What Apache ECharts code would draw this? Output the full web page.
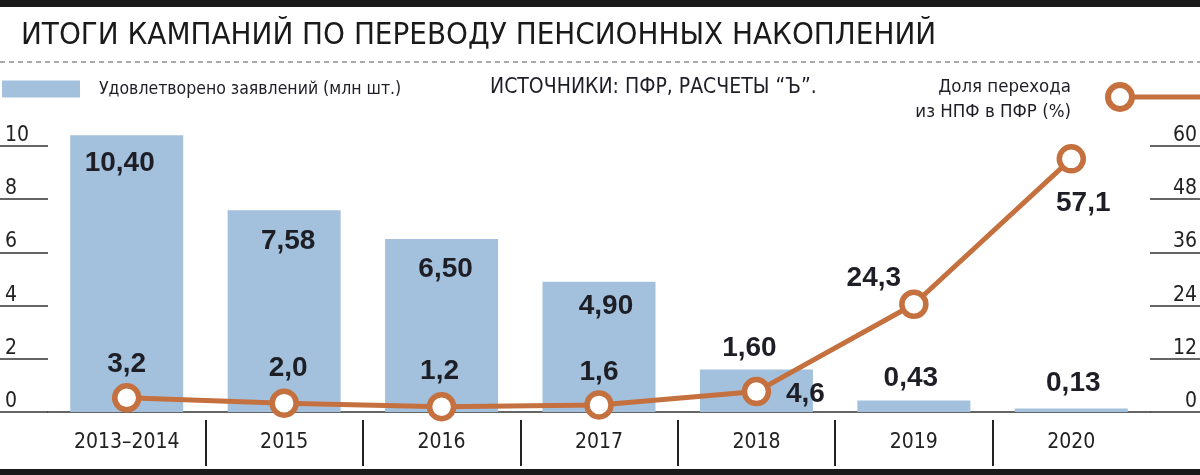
<!DOCTYPE html>
<html><head><meta charset="utf-8">
<script src="https://cdn.jsdelivr.net/npm/echarts@6/dist/echarts.min.js"></script>
<style>html,body{margin:0;padding:0;background:#fff}#c{width:1200px;height:475px}</style>
</head><body><div id="c"></div>
<script>
// ---- data ----
const categories = ['2013–2014', '2015', '2016', '2017', '2018', '2019', '2020'];
const applications = [10.40, 7.58, 6.50, 4.90, 1.60, 0.43, 0.13];      // млн шт.
const shareNpfToPfr = [3.2, 2.0, 1.2, 1.6, 4.6, 24.3, 57.1];          // %
const leftTicks = [0, 2, 4, 6, 8, 10];
const rightTicks = [0, 12, 24, 36, 48, 60];
const barName = 'Удовлетворено заявлений (млн шт.)';
const lineNameLines = ['Доля перехода', 'из НПФ в ПФР (%)'];
const lineName = lineNameLines.join(' ');
const titleText = 'ИТОГИ КАМПАНИЙ ПО ПЕРЕВОДУ ПЕНСИОННЫХ НАКОПЛЕНИЙ';
const sourceText = 'ИСТОЧНИКИ: ПФР, РАСЧЕТЫ “Ъ”.';

// ---- styling / label placement ----
const NARROW = "'Liberation Sans Narrow', 'DejaVu Sans Condensed', sans-serif";
const BOLD = "'Liberation Sans', Arial, sans-serif";
const BAR_COLOR = '#a3c1dc';
const LINE_COLOR = '#c5703f';
const TEXT = '#1e1e26';
const barLabelLayout = [
  {position: 'insideTop', offset: [-7, 14]},
  {position: 'insideTop', offset: [4, 17]},
  {position: 'insideTop', offset: [4, 16]},
  {position: 'insideTop', offset: [7, 11]},
  {position: 'top', offset: [-7, -7]},
  {position: 'top', offset: [-3, -8]},
  {position: 'top', offset: [2, -11]}
];
const lineLabelOffsets = [[0, -34], [4, -35], [-2, -35], [0, -33], [49, 3], [-40, -26], [12, 44]];

const fmt = (v, d) => v.toFixed(d).replace('.', ',');

const chart = echarts.init(document.getElementById('c'), null, {renderer: 'canvas'});
chart.setOption({
  animation: false,
  backgroundColor: '#fff',
  title: {
    text: titleText, left: 21, top: 20, padding: 0,
    textStyle: {fontFamily: NARROW, fontSize: 31, fontWeight: 'normal', color: '#1a1a1a'}
  },
  legend: {
    data: [barName], left: 2, top: 80, padding: 0,
    itemWidth: 78, itemHeight: 17, icon: 'rect',
    textStyle: {fontFamily: NARROW, fontSize: 17.5, color: TEXT, padding: [0, 0, 0, 14]}
  },
  grid: [
    {left: 48, right: 50, top: 146, bottom: 63},
    {left: 48, right: 50, top: 420, height: 46}
  ],
  xAxis: [
    {
      type: 'category', data: categories, gridIndex: 0,
      axisLine: {show: true, lineStyle: {color: '#333', width: 1.5}},
      axisTick: {show: false},
      axisLabel: {interval: 0, margin: 20, fontFamily: NARROW, fontSize: 21, color: '#222'}
    },
    {
      type: 'category', data: categories, gridIndex: 1,
      axisLine: {show: false}, axisTick: {show: false}, axisLabel: {show: false, interval: 0},
      splitLine: {show: true, interval: 0, showMinLine: false, showMaxLine: false, lineStyle: {color: '#222', width: 2}}
    }
  ],
  yAxis: [
    {
      type: 'value', gridIndex: 0, position: 'left',
      min: leftTicks[0], max: leftTicks[leftTicks.length - 1], interval: leftTicks[1] - leftTicks[0],
      axisLine: {show: false},
      axisTick: {show: true, length: 48, lineStyle: {color: '#333', width: 1.5}},
      splitLine: {show: false},
      axisLabel: {margin: 43, align: 'left', verticalAlign: 'bottom', fontFamily: NARROW, fontSize: 21, color: '#222'}
    },
    {
      type: 'value', gridIndex: 0, position: 'right',
      min: rightTicks[0], max: rightTicks[rightTicks.length - 1], interval: rightTicks[1] - rightTicks[0],
      axisLine: {show: false},
      axisTick: {show: true, length: 50, lineStyle: {color: '#333', width: 1.5}},
      splitLine: {show: false},
      axisLabel: {margin: 47, align: 'right', verticalAlign: 'bottom', fontFamily: NARROW, fontSize: 21, color: '#222'}
    },
    {type: 'value', gridIndex: 1, show: false}
  ],
  series: [
    {
      name: barName, type: 'bar', xAxisIndex: 0, yAxisIndex: 0,
      barWidth: 113, clip: false, z: 2,
      itemStyle: {color: BAR_COLOR},
      label: {show: true, distance: 0, fontFamily: BOLD, fontWeight: 'bold', fontSize: 28, color: TEXT,
        formatter: p => fmt(p.value, 2)},
      data: applications.map((v, i) => ({value: v, label: barLabelLayout[i]}))
    },
    {
      name: lineName, type: 'line', xAxisIndex: 0, yAxisIndex: 1, z: 3,
      symbol: 'circle', symbolSize: 24, showAllSymbol: true,
      lineStyle: {color: LINE_COLOR, width: 5},
      itemStyle: {color: '#fff', borderColor: LINE_COLOR, borderWidth: 5.5},
      label: {show: true, position: 'inside', fontFamily: BOLD, fontWeight: 'bold', fontSize: 28, color: TEXT,
        formatter: p => fmt(p.value, 1)},
      data: shareNpfToPfr.map((v, i) => ({value: v, label: {offset: lineLabelOffsets[i]}}))
    }
  ],
  graphic: [
    {type: 'rect', shape: {x: 0, y: 0, width: 1200, height: 7}, style: {fill: '#1a1a1a'}},
    {type: 'rect', shape: {x: 0, y: 469, width: 1200, height: 6}, style: {fill: '#1a1a1a'}},
    {type: 'line', shape: {x1: 0, y1: 62, x2: 1200, y2: 62}, style: {stroke: '#555', lineWidth: 1, lineDash: [5, 4]}},
    {type: 'text', left: 490, top: 77, style: {text: sourceText, font: "21px " + NARROW, fill: TEXT}},
    {type: 'text', right: 129, top: 78, style: {text: lineNameLines[0], font: "18.5px " + NARROW, fill: TEXT}},
    {type: 'text', right: 129, top: 103, style: {text: lineNameLines[1], font: "18.5px " + NARROW, fill: TEXT}},
    {type: 'line', shape: {x1: 1120, y1: 97, x2: 1200, y2: 97}, style: {stroke: LINE_COLOR, lineWidth: 5}},
    {type: 'circle', shape: {cx: 1120, cy: 97, r: 12}, style: {fill: '#fff', stroke: LINE_COLOR, lineWidth: 6}}
  ]
});
</script>
</body></html>
